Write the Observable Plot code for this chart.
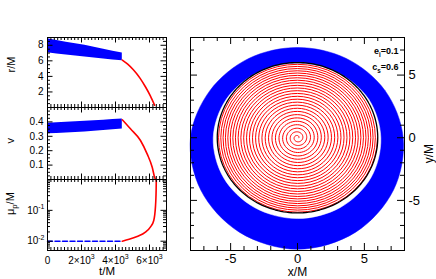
<!DOCTYPE html>
<html><head><meta charset="utf-8">
<script src="https://cdn.jsdelivr.net/npm/d3@7"></script>
<script src="https://cdn.jsdelivr.net/npm/@observablehq/plot@0.6"></script>
<style>
body{margin:0;background:#fff;}
#chart{position:relative;width:436px;height:279px;overflow:hidden;background:#fff;}
#chart svg{position:absolute;overflow:visible;}
</style></head><body><div id="chart"></div>
<script>
// ---------- data ----------
const tMajor = [0, 2000, 4000, 6000];
const tLabels = ["0", "2×10^3", "4×10^3", "6×10^3"];
const rMajor = [2, 4, 6, 8];
const vMajor = [0.1, 0.2, 0.3, 0.4];
const muMajor = [0.01, 0.1];
const muLabels = ["10^-2", "10^-1"];
const xyMajor = [-5, 0, 5];
const xyLabels = ["-5", "0", "5"];

// eccentric inspiral phase (blue): envelope of the oscillation
const blueT      = [0, 1100, 2200, 3300, 4400];
const blueRUpper = [8.85, 8.4, 8.0, 7.5, 7.0];
const blueRLower = [7.05, 6.75, 6.5, 6.25, 6.0];
const blueVUpper = [0.39, 0.397, 0.405, 0.412, 0.42];
const blueVLower = [0.317, 0.323, 0.33, 0.34, 0.35];
const blueMuT    = [0, 4400];
const blueMu     = [0.01, 0.01];

// plunge phase (red)
const redRT  = [4400, 4700, 5050, 5450, 5750, 6050, 6300];
const redR   = [6.1, 5.6, 4.85, 3.75, 2.7, 1.5, 0.3];
const redVT  = [4400, 4880, 5470, 5860, 6160, 6300, 6350];
const redV   = [0.415, 0.352, 0.271, 0.178, 0.085, 0.016, 0.0];
const redMuT = [4400, 4800, 5270, 5760, 6060, 6250, 6350, 6390, 6400];
const redMu  = [0.01, 0.0115, 0.0142, 0.0196, 0.029, 0.047, 0.13, 0.45, 1.0];

// orbit plane: boundaries of the blue band (degrees, radius)
const ringAngles = [0, 30, 60, 90, 120, 150, 180, 210, 240, 270, 300, 330];
const ringOuterR = [7.9, 7.55, 7.3, 7.2, 7.3, 7.55, 8.0, 8.35, 8.7, 8.9, 8.7, 8.3];
const ringInnerR = [6.23, 6.15, 6.0, 5.95, 6.0, 6.15, 6.3, 6.38, 6.43, 6.45, 6.42, 6.35];
const iscoR = 6.0;
// radius of the red spiral at each full turn (centre outwards)
const spiralTurnR = [0.1, 0.4, 0.69, 0.97, 1.25, 1.52, 1.78, 2.04, 2.29, 2.54, 2.78, 3.02,
  3.25, 3.48, 3.7, 3.92, 4.13, 4.34, 4.54, 4.74, 4.93, 5.12, 5.3, 5.48, 5.65, 5.82, 5.98];

// ---------- rendering ----------
const BLUE = "#0000ff", RED = "#ff0000";
const FONT = '"Liberation Sans", Arial, Helvetica, sans-serif';
const chart = document.getElementById("chart");
const idx = a => a.map((_, i) => i);
const notIn = (maj) => v => !maj.some(m => Math.abs(m - v) < 1e-9);

// inward ticks on all four sides of a frame, as rules in data space
function frameTicks({xDom, yDom, yLog = false, xMaj, xMin, yMaj, yMin, fw, fh, big, small}) {
  const yAt = (v, px) => yLog
    ? v * Math.pow(10, px * (Math.log10(yDom[1]) - Math.log10(yDom[0])) / fh)
    : v + px * (yDom[1] - yDom[0]) / fh;
  const xAt = (v, px) => v + px * (xDom[1] - xDom[0]) / fw;
  const marks = [];
  const opts = {stroke: "#000", strokeWidth: 1};
  [[xMaj, big], [xMin, small]].forEach(([vals, len]) => {
    marks.push(Plot.ruleX(vals, {x: d => d, y1: () => yDom[0], y2: () => yAt(yDom[0], len), ...opts}));
    marks.push(Plot.ruleX(vals, {x: d => d, y1: () => yDom[1], y2: () => yAt(yDom[1], -len), ...opts}));
  });
  [[yMaj, big], [yMin, small]].forEach(([vals, len]) => {
    marks.push(Plot.ruleY(vals, {y: d => d, x1: () => xDom[0], x2: () => xAt(xDom[0], len), ...opts}));
    marks.push(Plot.ruleY(vals, {y: d => d, x1: () => xDom[1], x2: () => xAt(xDom[1], -len), ...opts}));
  });
  return marks;
}

function rich(svg, match, parts) {
  d3.select(svg).selectAll("text").filter(function () { return this.textContent === match; }).each(function () {
    const base = parseFloat(getComputedStyle(this).fontSize) || 10;
    const t = d3.select(this); t.text(null);
    let off = 0;
    for (const p of parts) {
      const target = p.sub ? 0.3 * base : p.sup ? -0.42 * base : 0;
      const s = t.append("tspan").text(p.t);
      if (target !== off) s.attr("dy", target - off);
      if (p.sub || p.sup) s.style("font-size", (0.7 * base) + "px");
      off = target;
    }
  });
}

function place(svg, left, top) {
  svg.style.left = left + "px"; svg.style.top = top + "px";
  chart.appendChild(svg);
  return svg;
}

const leftStyle = {fontFamily: FONT, fontSize: "10px", color: "#000", background: "none", overflow: "visible"};
const tDom = [0, 7000];
const tMinor = d3.range(0, 7001, 200).filter(notIn(tMajor));
const FW = 119;

// panel 1: r/M
const rDom = [0, 9];
const p1 = Plot.plot({
  width: 170, height: 108, marginLeft: 47, marginRight: 4, marginTop: 37, marginBottom: 1,
  style: leftStyle,
  x: {domain: tDom, axis: null},
  y: {domain: rDom, axis: null},
  marks: [
    Plot.areaY(idx(blueT), {x: i => blueT[i], y1: i => blueRLower[i], y2: i => blueRUpper[i], fill: BLUE, curve: "monotone-x"}),
    Plot.line(idx(redRT), {x: i => redRT[i], y: i => redR[i], stroke: RED, strokeWidth: 1.6, curve: "monotone-x"}),
    ...frameTicks({xDom: tDom, yDom: rDom, xMaj: tMajor, xMin: tMinor, yMaj: rMajor, yMin: d3.range(0.5, 9, 0.5).filter(notIn(rMajor)), fw: FW, fh: 70, big: 5.5, small: 3}),
    Plot.axisY(rMajor, {anchor: "left", tickSize: 0, tickPadding: 4, label: null, tickFormat: d => String(d)}),
    Plot.text(["r/M"], {frameAnchor: "left", dx: -36, rotate: -90, fontSize: 11}),
    Plot.frame({stroke: "#000"})
  ]
});
place(p1, 0, 0);

// panel 2: v
const vDom = [0, 0.5];
const p2 = Plot.plot({
  width: 170, height: 73, marginLeft: 47, marginRight: 4, marginTop: 0, marginBottom: 1,
  style: leftStyle,
  x: {domain: tDom, axis: null},
  y: {domain: vDom, axis: null},
  marks: [
    Plot.areaY(idx(blueT), {x: i => blueT[i], y1: i => blueVLower[i], y2: i => blueVUpper[i], fill: BLUE, curve: "monotone-x"}),
    Plot.line(idx(redVT), {x: i => redVT[i], y: i => redV[i], stroke: RED, strokeWidth: 1.6, curve: "monotone-x"}),
    ...frameTicks({xDom: tDom, yDom: vDom, xMaj: tMajor, xMin: tMinor, yMaj: vMajor, yMin: d3.range(0.025, 0.5, 0.025).filter(notIn(vMajor)), fw: FW, fh: 72, big: 5.5, small: 3}),
    Plot.axisY(vMajor, {anchor: "left", tickSize: 0, tickPadding: 4, label: null, tickFormat: d => String(d)}),
    Plot.text(["v"], {frameAnchor: "left", dx: -37, rotate: -90, fontSize: 11}),
    Plot.frame({stroke: "#000"})
  ]
});
place(p2, 0, 107);

// panel 3: mu_p/M (log)
const muDom = [0.005, 1];
const muMinor = [0.001, 0.01, 0.1].flatMap(d => d3.range(2, 10).map(k => +(k * d).toPrecision(3))).filter(v => v > 0.005 && v < 1);
const p3 = Plot.plot({
  width: 170, height: 100, marginLeft: 47, marginRight: 4, marginTop: 0, marginBottom: 29,
  style: leftStyle,
  x: {domain: tDom, axis: null},
  y: {type: "log", domain: muDom, axis: null},
  marks: [
    Plot.line(idx(blueMuT), {x: i => blueMuT[i], y: i => blueMu[i], stroke: BLUE, strokeWidth: 1.5, strokeDasharray: "5,2.5"}),
    Plot.line(idx(redMuT), {x: i => redMuT[i], y: i => redMu[i], stroke: RED, strokeWidth: 1.6, curve: "monotone-x"}),
    ...frameTicks({xDom: tDom, yDom: muDom, yLog: true, xMaj: tMajor, xMin: tMinor, yMaj: muMajor, yMin: muMinor, fw: FW, fh: 71, big: 5.5, small: 3}),
    Plot.axisY(muMajor, {anchor: "left", tickSize: 0, tickPadding: 3, label: null, tickFormat: d => muLabels[muMajor.indexOf(d)]}),
    Plot.axisX(tMajor, {anchor: "bottom", tickSize: 0, tickPadding: 6, label: null, tickFormat: d => tLabels[tMajor.indexOf(d)]}),
    Plot.text(["μp/M"], {frameAnchor: "left", dx: -37, rotate: -90, fontSize: 11}),
    Plot.text(["t/M"], {frameAnchor: "bottom", dy: 24, fontSize: 11.5}),
    Plot.frame({stroke: "#000"})
  ]
});
place(p3, 0, 179);
rich(p3, "μp/M", [{t: "μ"}, {t: "p", sub: true}, {t: "/M"}]);
tLabels.slice(1).forEach(l => { const [a, b] = l.split("^"); rich(p3, l, [{t: a}, {t: b, sup: true}]); });
muLabels.forEach(l => { const [a, b] = l.split("^"); rich(p3, l, [{t: a}, {t: b, sup: true}]); });

// right panel: orbit in the x-y plane
const rad = d => d * Math.PI / 180;
const spiralPts = [];
const STEPS = 48;
for (let k = 0; k < spiralTurnR.length - 1; k++) {
  for (let j = 0; j < STEPS; j++) {
    const f = j / STEPS, a = 2 * Math.PI * (k + f);
    const r = spiralTurnR[k] + (spiralTurnR[k + 1] - spiralTurnR[k]) * f;
    spiralPts.push([r * Math.cos(a), r * Math.sin(a)]);
  }
}
spiralPts.push([spiralTurnR[spiralTurnR.length - 1], 0]);
const circleAngles = d3.range(0, 361, 2);
const xDomR = [-8, 8], yDomR = [-9, 8];

const p4 = Plot.plot({
  width: 266, height: 279, marginLeft: 20, marginRight: 32, marginTop: 37, marginBottom: 29,
  style: {fontFamily: FONT, fontSize: "13px", color: "#000", background: "none", overflow: "visible"},
  x: {domain: xDomR, axis: null},
  y: {domain: yDomR, axis: null},
  marks: [
    Plot.line(idx(ringAngles), {x: i => ringOuterR[i] * Math.cos(rad(ringAngles[i])), y: i => ringOuterR[i] * Math.sin(rad(ringAngles[i])), curve: "catmull-rom-closed", fill: BLUE, stroke: BLUE, strokeWidth: 0.5}),
    Plot.line(idx(ringAngles), {x: i => ringInnerR[i] * Math.cos(rad(ringAngles[i])), y: i => ringInnerR[i] * Math.sin(rad(ringAngles[i])), curve: "catmull-rom-closed", fill: "#fff", stroke: "#fff", strokeWidth: 0.5}),
    Plot.line(spiralPts, {x: d => d[0], y: d => d[1], stroke: RED, strokeWidth: 1}),
    Plot.line(circleAngles, {x: a => iscoR * Math.cos(rad(a)), y: a => iscoR * Math.sin(rad(a)), stroke: "#000", strokeWidth: 1.3}),
    ...frameTicks({xDom: xDomR, yDom: yDomR, xMaj: xyMajor, xMin: d3.range(-7, 8).filter(notIn(xyMajor)), yMaj: xyMajor, yMin: d3.range(-8, 8).filter(notIn(xyMajor)), fw: 214, fh: 213, big: 7, small: 4}),
    Plot.axisX(xyMajor, {anchor: "bottom", tickSize: 0, tickPadding: 3, label: null, tickFormat: d => xyLabels[xyMajor.indexOf(d)]}),
    Plot.axisY(xyMajor, {anchor: "right", tickSize: 0, tickPadding: 4, label: null, tickFormat: d => xyLabels[xyMajor.indexOf(d)]}),
    Plot.text(["x/M"], {frameAnchor: "bottom", dy: 25, fontSize: 12}),
    Plot.text(["y/M"], {frameAnchor: "right", dx: 25, rotate: -90, fontSize: 12}),
    Plot.text(["e_i=0.1"], {frameAnchor: "top-right", textAnchor: "end", dx: -6, dy: 10, fontSize: 9, fontWeight: "bold"}),
    Plot.text(["c_s=0.6"], {frameAnchor: "top-right", textAnchor: "end", dx: -6, dy: 26, fontSize: 9, fontWeight: "bold"}),
    Plot.frame({stroke: "#000"})
  ]
});
place(p4, 170, 0);
rich(p4, "e_i=0.1", [{t: "e"}, {t: "i", sub: true}, {t: "=0.1"}]);
rich(p4, "c_s=0.6", [{t: "c"}, {t: "s", sub: true}, {t: "=0.6"}]);
</script></body></html>
